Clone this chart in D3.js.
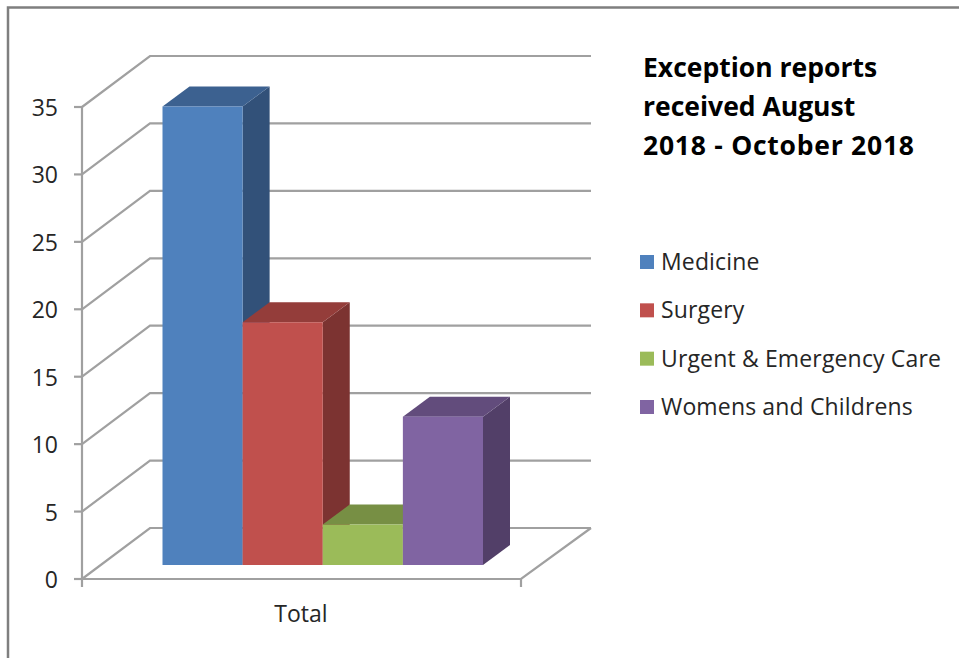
<!DOCTYPE html>
<html><head><meta charset="utf-8">
<script src="https://cdn.jsdelivr.net/npm/d3@7"></script>
<style>html,body{margin:0;padding:0;background:#fff}svg{display:block}text{font-family:"Open Sans",sans-serif;fill:#262626}</style>
</head><body><svg id="c" width="959" height="658"></svg>
<script>
const categories=["Total"];
const seriesNames=["Medicine","Surgery","Urgent & Emergency Care","Womens and Childrens"];
const seriesValues=[34,18,3,11];
const frontColors=["#4f81bd","#c0504d","#9bbb59","#8064a2"];
const topColors=["#3c6190","#943d3a","#778f44","#624c7c"];
const sideColors=["#325179","#7c3331","#647839","#523f68"];
const yTicks=[0,5,10,15,20,25,30,35];
const titleLines=["Exception reports","received August","2018 - October 2018"];

const svg=d3.select("#c");
const grey="#a0a0a0";
const backDx=68,backDy=-51;   // floor depth
const barDx=27,barDy=-20;     // bar depth
const barInDy=-14;            // bar base inset vs. front edge
const y=d3.scaleLinear().domain([0,35]).range([579,107]);
const xCat=d3.scaleBand().domain(categories).range([82,521]);
const xBar=d3.scaleBand().domain(seriesNames).range([162.5,483]);

// frame
svg.append("path").attr("d","M959,7.5H8V658").attr("fill","none").attr("stroke","#7f7f7f").attr("stroke-width",2.5);

// walls and gridlines
const gl=svg.append("g").attr("fill","none").attr("stroke",grey).attr("stroke-width",2.2);
yTicks.forEach(t=>{
  const yy=y(t);
  gl.append("path").attr("d",d3.line()([[82,yy],[82+backDx,yy+backDy],[591,yy+backDy]]));
  gl.append("line").attr("x1",74).attr("x2",82).attr("y1",yy).attr("y2",yy);
});
gl.append("line").attr("x1",82).attr("x2",82).attr("y1",y(35)).attr("y2",587);
gl.append("path").attr("d",d3.line()([[82,y(0)],[521,y(0)],[591,y(0)+backDy]]));
gl.append("line").attr("x1",521).attr("x2",521).attr("y1",y(0)).attr("y2",587);

// bars
const base=y(0)+barInDy;
const bars=svg.append("g");
const bw=xBar.bandwidth();
const h=v=>y(0)-y(v);
const order=seriesNames.map((n,i)=>({n,v:seriesValues[i],i}));
order.forEach(d=>{
  const x0=xBar(d.n),x1=x0+bw,top=base-h(d.v);
  bars.append("path").attr("fill",sideColors[d.i])
    .attr("d",d3.line()([[x1,base],[x1+barDx,base+barDy],[x1+barDx,top+barDy],[x1,top]])+"Z");
  bars.append("path").attr("fill",topColors[d.i])
    .attr("d",d3.line()([[x0,top],[x0+barDx,top+barDy],[x1+barDx,top+barDy],[x1,top]])+"Z");
  bars.append("rect").attr("x",x0).attr("y",top).attr("width",bw).attr("height",h(d.v)).attr("fill",frontColors[d.i]);
});

// tick labels
svg.append("g").selectAll("text").data(yTicks).join("text")
  .attr("x",58).attr("y",t=>y(t)+9).attr("text-anchor","end").attr("font-size",23)
  .text(t=>t);
svg.append("text").attr("x",xCat(categories[0])+xCat.bandwidth()/2-0.5).attr("y",622).attr("text-anchor","middle").attr("font-size",23).text(categories[0]);

// title
svg.append("g").selectAll("text").data(titleLines).join("text")
  .attr("x",643).attr("y",(d,i)=>77+i*39).attr("font-size",26.5).attr("font-weight",700)
  .attr("letter-spacing",(d,i)=>i===2?0.75:0).style("fill","#000").text(d=>d);

// legend
const ly=d3.scalePoint().domain(seriesNames).range([262,407]);
const lg=svg.append("g");
seriesNames.forEach((n,i)=>{
  lg.append("rect").attr("x",640).attr("y",ly(n)-7).attr("width",14).attr("height",14).attr("fill",frontColors[i]);
  lg.append("text").attr("x",661).attr("y",ly(n)+8).attr("font-size",23).attr("letter-spacing",0.15).text(n);
});
</script></body></html>
